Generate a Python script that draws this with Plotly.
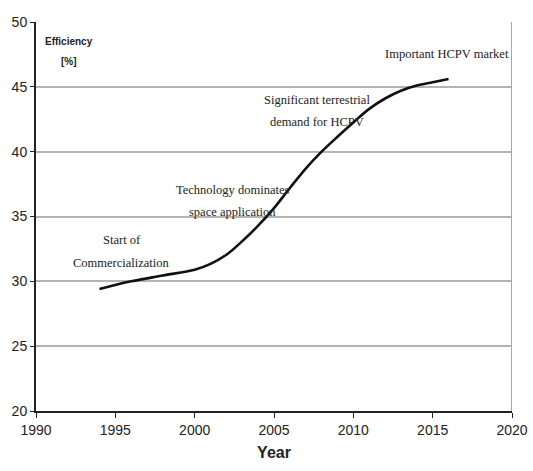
import plotly.graph_objects as go

# Efficiency roadmap for concentrator solar cells
years = [1994, 1996, 1998, 2000, 2001, 2002, 2003, 2004, 2005, 2006, 2007,
         2008, 2009, 2010, 2011, 2012, 2013, 2014, 2015, 2016]
efficiency = [29.4, 30.0, 30.45, 30.9, 31.35, 32.05, 33.1, 34.3, 35.65, 37.2, 38.7,
              40.0, 41.15, 42.25, 43.3, 44.1, 44.7, 45.1, 45.35, 45.6]

x_ticks = [1990, 1995, 2000, 2005, 2010, 2015, 2020]
y_ticks = [20, 25, 30, 35, 40, 45, 50]

# Milestone labels: (lines, centre year, efficiency of first line, line step)
milestones = [
    (["Start of", "Commercialization"], 1995.4, 33.2, 1.75),
    (["Technology dominates", "space application"], 2002.4, 37.05, 1.7),
    (["Significant terrestrial", "demand for HCPV"], 2007.7, 43.95, 1.7),
    (["Important HCPV market"], 2015.9, 47.5, 0),
]

serif = "Liberation Serif, Times New Roman, serif"
sans = "Liberation Sans, Arial, sans-serif"

fig = go.Figure()
fig.add_trace(go.Scatter(
    x=years, y=efficiency, mode="lines",
    line=dict(color="#111111", width=2.6, shape="spline", smoothing=1.0),
    showlegend=False, hoverinfo="skip",
))

for lines, xv, yv, step in milestones:
    for i, line in enumerate(lines):
        fig.add_annotation(
            x=xv, y=yv - i * step, text=line, showarrow=False,
            font=dict(family=serif, size=12.5, color="#222222"),
            xanchor="center", yanchor="middle",
        )

for text, yp in [("<b>Efficiency</b>", 0.95), ("<b>[%]</b>", 0.898)]:
    fig.add_annotation(
        x=0.07, y=yp, xref="paper", yref="paper", text=text, showarrow=False,
        font=dict(family=sans, size=10, color="#222222"),
        xanchor="center", yanchor="middle",
    )

# right-hand frame edge
fig.add_shape(type="line", x0=2020, x1=2020, y0=20, y1=50,
              xref="x", yref="y", line=dict(color="#a8a8a8", width=2))

fig.update_layout(
    width=533, height=471,
    margin=dict(l=36, r=21, t=22, b=60),
    paper_bgcolor="white", plot_bgcolor="white",
    xaxis=dict(
        range=[1990, 2020], tickvals=x_ticks, showgrid=False, zeroline=False,
        automargin=False,
        showline=True, linecolor="#222222", linewidth=2,
        ticks="outside", ticklen=5, tickcolor="#222222",
        tickfont=dict(family=sans, size=14, color="#222222"),
        title=dict(text="<b>Year</b>", font=dict(family=sans, size=16, color="#222222"),
                   standoff=10),
    ),
    yaxis=dict(
        range=[20, 50], tickvals=y_ticks, showgrid=True, gridcolor="#b4b4b4",
        gridwidth=2, zeroline=False, automargin=False,
        showline=True, linecolor="#222222", linewidth=2,
        ticks="outside", ticklen=4, tickcolor="#222222",
        tickfont=dict(family=sans, size=14, color="#222222"),
    ),
)

fig.write_html("out.html")
